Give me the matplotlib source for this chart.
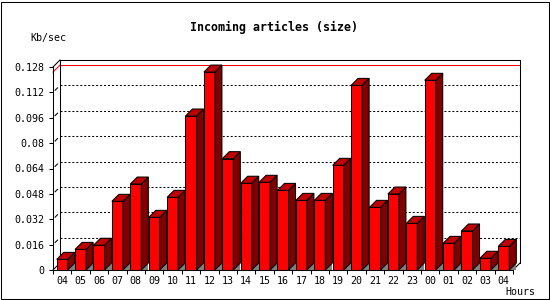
import matplotlib.pyplot as plt
from matplotlib.patches import Polygon, Rectangle
from matplotlib.transforms import offset_copy

hours = ['04', '05', '06', '07', '08', '09', '10', '11', '12', '13', '14', '15',
         '16', '17', '18', '19', '20', '21', '22', '23', '00', '01', '02', '03', '04']
kbsec = [0.0067, 0.0130, 0.0156, 0.0433, 0.0542, 0.0332, 0.0458, 0.0971, 0.1248,
         0.0702, 0.0547, 0.0553, 0.0502, 0.0439, 0.0439, 0.0660, 0.1164, 0.0395,
         0.0479, 0.0294, 0.1196, 0.0168, 0.0246, 0.0074, 0.0149]
yticks = [0, 0.016, 0.032, 0.048, 0.064, 0.08, 0.096, 0.112, 0.128]
ylabels = ['0', '0.016', '0.032', '0.048', '0.064', '0.08', '0.096', '0.112', '0.128']

W, H = 550, 300
DEPTH = 7  # 3d depth in pixels
FONT = 'DejaVu Sans Mono'
LW = 0.75

fig = plt.figure(figsize=(W / 100, H / 100), dpi=100)
ax = fig.add_axes([53 / W, 30 / H, 460 / W, 203 / H])
n = len(hours)
ymax = yticks[-1]
ax.set_xlim(0, n)
ax.set_ylim(0, ymax)
ax.patch.set_visible(False)
for s in ['top', 'right']:
    ax.spines[s].set_visible(False)
for s in ['left', 'bottom']:
    ax.spines[s].set_linewidth(LW)
    ax.spines[s].set_zorder(5)

bb = ax.get_window_extent()
dx = DEPTH * n / bb.width
dy = DEPTH * ymax / bb.height
back = offset_copy(ax.transData, fig=fig, x=DEPTH, y=DEPTH, units='dots')

# back wall
ax.plot([0, 0, n, n], [0, ymax, ymax, 0], transform=back, color='black', lw=LW, clip_on=False, zorder=2)
for x0, y0 in [(0, ymax), (n, 0), (0, 0)]:
    ax.plot([x0, x0 + dx], [y0, y0 + dy], color='black', lw=LW, clip_on=False, zorder=2)

# grid lines on the back wall + small diagonal marks
for t in yticks[1:-1]:
    ax.plot([0, n], [t, t], transform=back, color='black', lw=LW,
            linestyle=(0, (1.9, 1.9)), clip_on=False, zorder=1)
    ax.plot([0.3 * dx, 0.65 * dx], [t + 0.3 * dy, t + 0.65 * dy], color='black',
            lw=LW, clip_on=False, zorder=1)

# max line
vmax = max(kbsec)
ax.plot([0, n], [vmax, vmax], transform=back, color='#ff0000', lw=LW, clip_on=False, zorder=1.5)
ax.plot([0, dx], [vmax, vmax + dy], color='#ff0000', lw=LW, clip_on=False, zorder=1.5)

# bars
xs = [i + 0.5 for i in range(n)]
bw = 0.6
ax.bar(xs, kbsec, width=bw, color='#ff0000', edgecolor='black', linewidth=LW, zorder=3)
for x, v in zip(xs, kbsec):
    xl, xr = x - bw / 2, x + bw / 2
    ax.add_patch(Polygon([(xr, 0), (xr + dx, 0), (xr + dx, dy)], closed=True,
                         facecolor='#808080', edgecolor='none', zorder=2.5, clip_on=False))
    ax.add_patch(Polygon([(xr, 0), (xr + dx, dy), (xr + dx, v + dy), (xr, v)], closed=True,
                         facecolor='#800000', edgecolor='black', lw=LW, zorder=3, clip_on=False))
    ax.add_patch(Polygon([(xl, v), (xl + dx, v + dy), (xr + dx, v + dy), (xr, v)], closed=True,
                         facecolor='#c00000', edgecolor='black', lw=LW, zorder=3, clip_on=False))

# ticks
ax.set_xticks(range(n + 1))
ax.set_xticklabels([])
ax.set_xticks(xs, minor=True)
ax.set_xticklabels(hours, minor=True, family=FONT, fontsize=7.2)
ax.tick_params(axis='x', which='major', length=3, width=LW, direction='out')
ax.tick_params(axis='x', which='minor', length=0, pad=4)
ax.set_yticks(yticks)
ax.set_yticklabels(ylabels, family=FONT, fontsize=7.2)
ax.tick_params(axis='y', length=3, width=LW, pad=3)

fig.text(273.7 / W, 1 - 27.5 / H, 'Incoming articles (size)', ha='center', va='center',
         family=FONT, weight='bold', fontsize=8.4)
fig.text(30 / W, 1 - 37.5 / H, 'Kb/sec', ha='left', va='center', family=FONT, fontsize=7.2)
fig.text(505 / W, 1 - 292 / H, 'Hours', ha='left', va='center', family=FONT, fontsize=7.2)

fig.add_artist(Rectangle((0.5 / W, 1.5 / H), 548 / W, 297 / H, transform=fig.transFigure,
                         fill=False, edgecolor='black', lw=LW))

plt.savefig('out.png', dpi=100)
